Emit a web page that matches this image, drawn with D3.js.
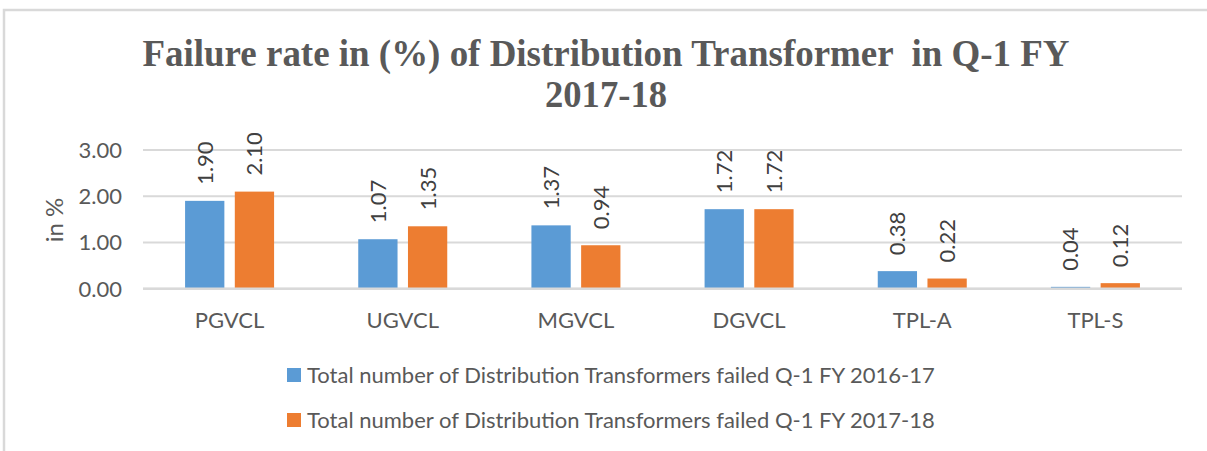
<!DOCTYPE html>
<html lang="en">
<head>
    <meta charset="UTF-8">
    <title>Failure rate of Distribution Transformer</title>
    <script src="https://cdnjs.cloudflare.com/ajax/libs/d3/7.8.5/d3.min.js"></script>
    <style>
        body { margin: 0; background: #fff; }
        text { font-family: Lato, "Open Sans", sans-serif; }
    </style>
</head>
<body>
<script>
    var width = 1207;
    var height = 451;

    // data
    var categories = ["PGVCL", "UGVCL", "MGVCL", "DGVCL", "TPL-A", "TPL-S"];
    var fy1617 = [1.90, 1.07, 1.37, 1.72, 0.38, 0.04];
    var fy1718 = [2.10, 1.35, 0.94, 1.72, 0.22, 0.12];
    var seriesNames = [
        "Total number of Distribution Transformers failed Q-1 FY 2016-17",
        "Total number of Distribution Transformers failed Q-1 FY 2017-18"
    ];
    var seriesColors = ["#5B9BD5", "#ED7D31"];
    var yTicks = [0, 1, 2, 3];

    var svg = d3.select("body").append("svg")
        .attr("width", width)
        .attr("height", height);

    // chart frame
    svg.append("rect")
        .attr("x", 4).attr("y", 10)
        .attr("width", 1300).attr("height", 600)
        .attr("fill", "none")
        .attr("stroke", "#d9d9d9")
        .attr("stroke-width", 2.5);

    // title (glyphs squeezed like the original)
    svg.append("text")
        .attr("x", 606).attr("y", 66)
        .attr("text-anchor", "middle")
        .attr("textLength", 927)
        .attr("lengthAdjust", "spacingAndGlyphs")
        .style("white-space", "pre")
        .style("font-family", "'Liberation Serif', 'Times New Roman', serif")
        .style("font-weight", "bold")
        .style("font-size", "38px")
        .attr("fill", "#595959")
        .text("Failure rate in (%) of Distribution Transformer  in Q-1 FY");
    svg.append("text")
        .attr("x", 606).attr("y", 107)
        .attr("text-anchor", "middle")
        .attr("textLength", 122)
        .attr("lengthAdjust", "spacingAndGlyphs")
        .style("font-family", "'Liberation Serif', 'Times New Roman', serif")
        .style("font-weight", "bold")
        .style("font-size", "38px")
        .attr("fill", "#595959")
        .text("2017-18");

    var x = d3.scaleBand()
        .domain(categories)
        .range([143, 1182]);

    var xInner = d3.scaleBand()
        .domain([0, 1])
        .range([-44.5, 44.5])
        .paddingInner(0.21);

    var y = d3.scaleLinear()
        .domain([0, 3])
        .range([288.7, 150]);

    // gridlines
    svg.append("g").selectAll("line")
        .data(yTicks)
        .enter().append("line")
        .attr("x1", 143).attr("x2", 1182)
        .attr("y1", function (d) { return y(d); })
        .attr("y2", function (d) { return y(d); })
        .attr("stroke", "#d9d9d9")
        .attr("stroke-width", 2);

    // y tick labels
    svg.append("g").selectAll("text")
        .data(yTicks)
        .enter().append("text")
        .attr("x", 122)
        .attr("y", function (d) { return y(d); })
        .attr("dy", "0.36em")
        .attr("text-anchor", "end")
        .style("font-size", "22px")
        .attr("fill", "#595959")
        .text(function (d) { return d3.format(".2f")(d); });

    // y axis title
    svg.append("text")
        .attr("transform", "translate(54,220) rotate(-90)")
        .attr("text-anchor", "middle")
        .attr("dy", "0.36em")
        .style("font-size", "24px")
        .attr("fill", "#595959")
        .text("in %");

    var series = [fy1617, fy1718];
    var groups = svg.append("g").selectAll("g")
        .data(series)
        .enter().append("g")
        .attr("fill", function (d, i) { return seriesColors[i]; });

    groups.each(function (vals, si) {
        var g = d3.select(this);
        g.selectAll("rect")
            .data(vals)
            .enter().append("rect")
            .attr("x", function (d, i) { return x(categories[i]) + x.bandwidth() / 2 + xInner(si); })
            .attr("width", xInner.bandwidth())
            .attr("y", function (d) { return y(d); })
            .attr("height", function (d) { return y(0) - y(d); });

        // value labels, rotated
        g.selectAll("text")
            .data(vals)
            .enter().append("text")
            .attr("transform", function (d, i) {
                var cx = x(categories[i]) + x.bandwidth() / 2 + xInner(si) + xInner.bandwidth() / 2;
                return "translate(" + cx + "," + (y(d) - 16) + ") rotate(-90)";
            })
            .attr("dy", "0.36em")
            .attr("text-anchor", "start")
            .style("font-size", "22px")
            .attr("fill", "#404040")
            .text(function (d) { return d3.format(".2f")(d); });
    });

    // baseline on top of bars
    svg.append("line")
        .attr("x1", 143).attr("x2", 1182)
        .attr("y1", y(0)).attr("y2", y(0))
        .attr("stroke", "#d9d9d9")
        .attr("stroke-width", 2.5);

    // category labels
    svg.append("g").selectAll("text")
        .data(categories)
        .enter().append("text")
        .attr("x", function (d) { return x(d) + x.bandwidth() / 2; })
        .attr("y", 320)
        .attr("dy", "0.36em")
        .attr("text-anchor", "middle")
        .style("font-size", "22px")
        .attr("fill", "#595959")
        .text(function (d) { return d; });

    // legend
    var legend = svg.append("g").selectAll("g")
        .data(seriesNames)
        .enter().append("g")
        .attr("transform", function (d, i) { return "translate(287," + (375 + i * 45) + ")"; });

    legend.append("rect")
        .attr("x", 0).attr("y", -7)
        .attr("width", 14).attr("height", 14)
        .attr("fill", function (d, i) { return seriesColors[i]; });

    legend.append("text")
        .attr("x", 20)
        .attr("dy", "0.36em")
        .style("font-size", "22px")
        .attr("fill", "#595959")
        .text(function (d) { return d; });
</script>
</body>
</html>
